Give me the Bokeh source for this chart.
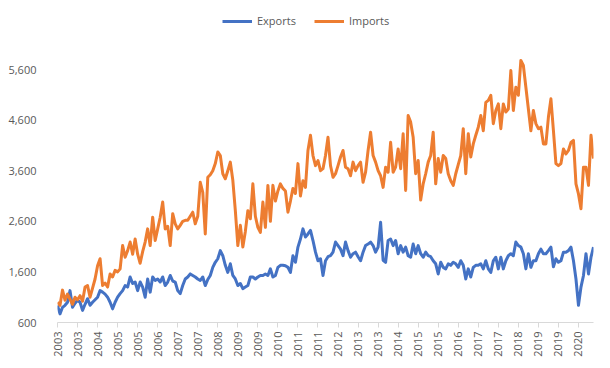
import math
import pandas as pd
from bokeh.plotting import figure
from bokeh.models import Range1d, FixedTicker, NumeralTickFormatter, Legend, LegendItem
from bokeh.embed import file_html
from bokeh.resources import INLINE

start_month = "2003-01"

exports = [
    940, 770, 900, 940, 1000, 1230, 900, 980, 1040, 1000, 840, 960,
    1070, 940, 1000, 1050, 1100, 1230, 1200, 1160, 1100, 1000, 870, 1000,
    1100, 1170, 1230, 1330, 1300, 1500, 1370, 1400, 1230, 1400, 1300, 1100,
    1460, 1200, 1500, 1430, 1460, 1400, 1500, 1330, 1400, 1530, 1420, 1400,
    1230, 1170, 1330, 1460, 1500, 1560, 1530, 1500, 1460, 1430, 1500, 1330,
    1450, 1530, 1690, 1790, 1860, 2020, 1920, 1730, 1590, 1760, 1530, 1460,
    1330, 1370, 1270, 1300, 1330, 1500, 1500, 1460, 1500, 1530, 1530, 1560,
    1530, 1660, 1500, 1530, 1690, 1730, 1730, 1720, 1690, 1590, 1920, 1790,
    2090, 2250, 2450, 2290, 2350, 2420, 2220, 1990, 1820, 1860, 1530, 1820,
    1900, 1920, 1990, 2190, 2120, 2050, 1920, 2190, 2020, 1890, 1960, 1990,
    1900, 1820, 1990, 2120, 2150, 2190, 2120, 1990, 2090, 2580, 1830, 1790,
    2220, 2250, 2120, 2220, 1960, 2120, 1990, 2090, 1920, 1890, 2150, 1960,
    2120, 1960, 1890, 1990, 1920, 1900, 1820, 1760, 1560, 1790, 1690, 1660,
    1760, 1730, 1790, 1760, 1690, 1820, 1730, 1460, 1660, 1500, 1690, 1730,
    1730, 1760, 1660, 1820, 1660, 1590, 1820, 1890, 1660, 1890, 1660, 1820,
    1920, 1960, 1920, 2190, 2120, 2090, 1960, 1660, 1960, 1690, 1820, 1820,
    1960, 2050, 1960, 1960, 2020, 2090, 1700, 1860, 1790, 1820, 1990, 1990,
    2020, 2090, 1820, 1460, 940, 1300, 1530, 1960, 1560, 1890, 2090,
]

imports = [
    1000, 940, 1240, 1040, 1160, 1060, 960, 1100, 1050, 1130, 1020, 1300,
    1330, 1100, 1280, 1460, 1720, 1860, 1330, 1380, 1300, 1560, 1500, 1630,
    1600, 1660, 2120, 1890, 2020, 2190, 1950, 2250, 1950, 1770, 2000, 2190,
    2450, 2120, 2680, 2220, 2450, 2680, 2980, 2450, 2500, 2120, 2750, 2550,
    2450, 2520, 2600, 2620, 2620, 2700, 2780, 2550, 2700, 3370, 3170, 2350,
    3470, 3520, 3600, 3740, 3970, 3900, 3540, 3440, 3600, 3770, 3410, 2810,
    2120, 2520, 2090, 2400, 2810, 2650, 3340, 2700, 2480, 2380, 2980, 2480,
    3310, 2600, 3310, 3000, 3200, 3340, 3250, 3200, 2780, 3000, 3250, 3150,
    3740, 3100, 3400, 3270, 4000, 4300, 3900, 3700, 3800, 3600, 3640, 3900,
    4260, 3700, 3470, 3540, 3700, 3870, 4000, 3670, 3640, 3500, 3770, 3600,
    3700, 3770, 3370, 3570, 4000, 4360, 3900, 3770, 3600, 3500, 3270, 3670,
    3570, 4160, 3570, 3670, 4030, 3640, 4330, 3210, 4690, 4560, 4260, 3540,
    3800, 3020, 3340, 3540, 3770, 3900, 4360, 3340, 3840, 3570, 3900, 3840,
    3540, 3400, 3310, 3540, 3720, 3900, 4430, 3540, 4330, 3870, 4130, 4300,
    4460, 4690, 4390, 4950, 4990, 5090, 4530, 4790, 4920, 4430, 4920, 4760,
    4820, 5580, 4790, 5250, 5090, 5780, 5680, 5250, 4820, 4390, 4790, 4530,
    4430, 4460, 4130, 4130, 4660, 5020, 4390, 3740, 3700, 3740, 4030, 3930,
    4000, 4160, 4200, 3340, 3140, 2850, 3670, 3670, 3310, 4300, 3840,
]

y_ticks = [600, 1600, 2600, 3600, 4600, 5600]
label_every = 8

months = pd.date_range(start_month, periods=len(exports), freq="MS")
xs = list(range(len(months)))
tick_pos = xs[::label_every]
tick_labels = {i: str(months[i].year) for i in tick_pos}

FONT = "Open Sans"
GRAY = "#595959"

# frame spans from near the top (room for the legend) down to the x axis
p = figure(width=600, height=360, output_backend="svg", toolbar_location=None,
           x_range=Range1d(0, len(xs) - 1), y_range=Range1d(600, 6865),
           min_border_left=57, min_border_right=7, min_border_top=5, min_border_bottom=38)
p.outline_line_color = None
p.xgrid.visible = False
p.ygrid.visible = False
p.background_fill_color = "white"
p.border_fill_color = "white"

r_exp = p.line(xs, exports, line_color="#4472C4", line_width=3, line_join="round")
r_imp = p.line(xs, imports, line_color="#ED7D31", line_width=3, line_join="round")

xa = p.xaxis[0]
xa.ticker = FixedTicker(ticks=tick_pos)
xa.major_label_overrides = tick_labels
xa.major_label_orientation = math.pi / 2
xa.axis_line_color = "#D9D9D9"
xa.major_tick_line_color = "#D9D9D9"
xa.major_tick_in = 0
xa.major_tick_out = 5
xa.minor_tick_line_color = None
xa.major_label_text_color = GRAY
xa.major_label_text_font = FONT
xa.major_label_text_font_size = "11px"
xa.major_label_standoff = 4

ya = p.yaxis[0]
ya.ticker = FixedTicker(ticks=y_ticks)
ya.formatter = NumeralTickFormatter(format="0,0")
ya.axis_line_color = None
ya.major_tick_line_color = None
ya.minor_tick_line_color = None
ya.major_label_text_color = GRAY
ya.major_label_text_font = FONT
ya.major_label_text_font_size = "11px"
ya.major_label_standoff = 15

legend = Legend(items=[LegendItem(label="Exports", renderers=[r_exp]),
                       LegendItem(label="Imports", renderers=[r_imp])],
                orientation="horizontal", location=(165, 294),
                glyph_width=30, glyph_height=14, label_height=14,
                label_standoff=5, spacing=18, padding=0, margin=0,
                border_line_color=None, background_fill_alpha=0,
                label_text_font=FONT, label_text_font_size="11px",
                label_text_color=GRAY)
p.add_layout(legend, "center")

open("out.html", "w").write(file_html(p, INLINE))
